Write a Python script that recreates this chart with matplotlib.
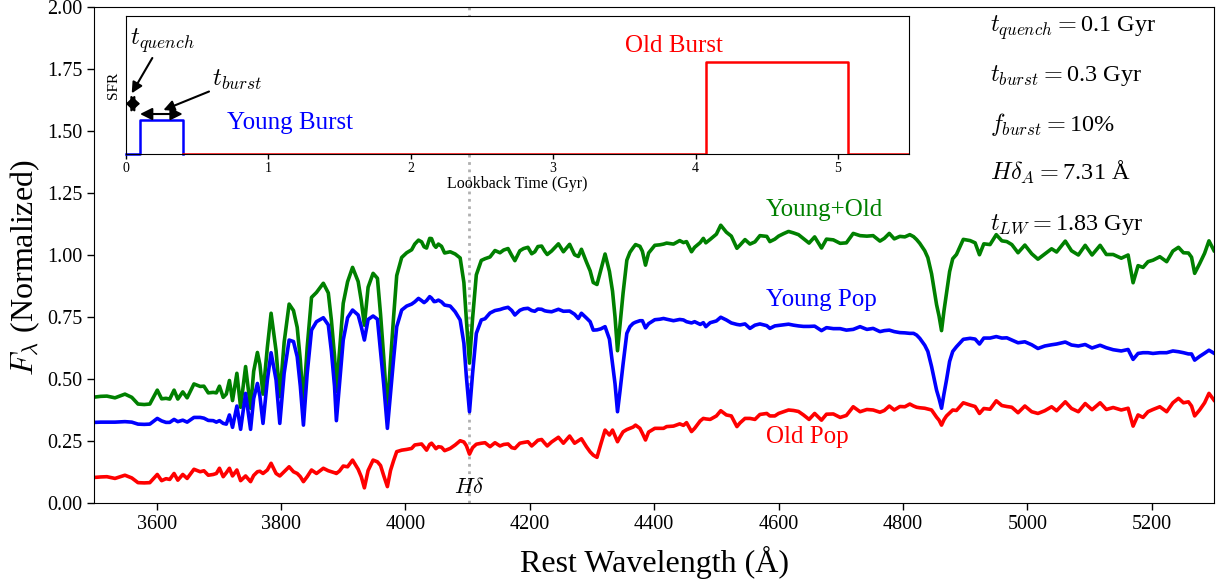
import numpy as np
import matplotlib
matplotlib.use("Agg")
import matplotlib.pyplot as plt

plt.rcParams['font.family'] = ['Liberation Serif', 'DejaVu Serif']
plt.rcParams['mathtext.fontset'] = 'cm'

# Rest-frame wavelength grid (Angstrom) and normalized flux of each component
wave = [3500, 3510, 3520, 3533, 3549, 3560, 3570, 3580, 3589, 3601, 3608, 3615, 3621, 3628, 3634,
        3642, 3649, 3660, 3670, 3676, 3683, 3691, 3696, 3701, 3707, 3712, 3717, 3722, 3729, 3735,
        3743, 3751, 3756, 3762, 3766, 3771, 3778, 3784, 3792, 3798, 3805, 3813, 3820, 3826, 3831,
        3836, 3842, 3849, 3857, 3868, 3876, 3881, 3886, 3889, 3894, 3900, 3907, 3915, 3924, 3929,
        3934, 3940, 3948, 3955, 3960, 3965, 3971, 3976, 3981, 3986, 3994, 4002, 4010, 4015, 4021,
        4026, 4030, 4034, 4039, 4042, 4046, 4049, 4053, 4058, 4063, 4072, 4080, 4088, 4094, 4098,
        4103, 4108, 4114, 4122, 4128, 4136, 4144, 4152, 4158, 4165, 4171, 4176, 4184, 4190, 4197,
        4203, 4208, 4213, 4219, 4224, 4228, 4235, 4246, 4254, 4264, 4272, 4278, 4283, 4291, 4297,
        4302, 4308, 4314, 4321, 4328, 4333, 4337, 4341, 4345, 4350, 4356, 4361, 4366, 4370, 4377,
        4381, 4386, 4391, 4401, 4409, 4415, 4420, 4431, 4441, 4447, 4452, 4460, 4465, 4474, 4479,
        4483, 4490, 4500, 4507, 4516, 4524, 4533, 4538, 4546, 4554, 4562, 4570, 4581, 4586, 4594,
        4600, 4608, 4616, 4624, 4632, 4640, 4649, 4658, 4669, 4677, 4688, 4699, 4709, 4720, 4731,
        4742, 4752, 4763, 4770, 4778, 4786, 4795, 4803, 4811, 4817, 4822, 4827, 4835, 4840, 4846,
        4854, 4858, 4862, 4866, 4870, 4875, 4880, 4886, 4897, 4908, 4916, 4923, 4930, 4940, 4950,
        4959, 4967, 4975, 4985, 4996, 5007, 5017, 5028, 5039, 5047, 5061, 5071, 5082, 5093, 5104,
        5117, 5127, 5138, 5151, 5162, 5170, 5178, 5186, 5194, 5202, 5213, 5224, 5234, 5243, 5251,
        5259, 5264, 5269, 5277, 5285, 5292, 5300]

young_pop = [0.324, 0.325, 0.325, 0.325, 0.327, 0.325, 0.317, 0.316, 0.317, 0.340, 0.330, 0.324, 0.324, 0.336, 0.327,
             0.333, 0.325, 0.344, 0.344, 0.341, 0.332, 0.331, 0.325, 0.331, 0.320, 0.317, 0.354, 0.304, 0.390, 0.296,
             0.441, 0.296, 0.420, 0.481, 0.430, 0.320, 0.495, 0.605, 0.495, 0.320, 0.522, 0.656, 0.650, 0.589, 0.470,
             0.313, 0.520, 0.696, 0.730, 0.746, 0.717, 0.610, 0.470, 0.331, 0.480, 0.656, 0.746, 0.777, 0.757, 0.710,
             0.656, 0.739, 0.753, 0.740, 0.610, 0.480, 0.300, 0.440, 0.580, 0.710, 0.777, 0.793, 0.801, 0.810, 0.824,
             0.815, 0.807, 0.815, 0.831, 0.825, 0.811, 0.812, 0.817, 0.810, 0.797, 0.793, 0.770, 0.737, 0.643, 0.508,
             0.367, 0.522, 0.683, 0.737, 0.742, 0.765, 0.775, 0.779, 0.784, 0.788, 0.775, 0.757, 0.776, 0.782, 0.784,
             0.775, 0.772, 0.781, 0.780, 0.774, 0.772, 0.770, 0.780, 0.772, 0.773, 0.760, 0.743, 0.764, 0.745, 0.730,
             0.696, 0.697, 0.701, 0.710, 0.660, 0.560, 0.480, 0.367, 0.450, 0.560, 0.683, 0.710, 0.723, 0.728, 0.734,
             0.734, 0.705, 0.722, 0.738, 0.740, 0.743, 0.740, 0.734, 0.739, 0.737, 0.730, 0.725, 0.730, 0.719, 0.726,
             0.710, 0.726, 0.733, 0.748, 0.737, 0.725, 0.719, 0.717, 0.721, 0.703, 0.716, 0.721, 0.714, 0.703, 0.713,
             0.715, 0.718, 0.720, 0.716, 0.713, 0.711, 0.711, 0.712, 0.694, 0.706, 0.702, 0.702, 0.696, 0.699, 0.710,
             0.699, 0.703, 0.690, 0.694, 0.696, 0.690, 0.686, 0.685, 0.683, 0.683, 0.676, 0.663, 0.635, 0.610, 0.549,
             0.454, 0.420, 0.381, 0.440, 0.495, 0.570, 0.610, 0.629, 0.659, 0.663, 0.660, 0.640, 0.664, 0.664, 0.670,
             0.664, 0.665, 0.656, 0.645, 0.649, 0.637, 0.622, 0.632, 0.637, 0.640, 0.648, 0.636, 0.632, 0.638, 0.624,
             0.635, 0.625, 0.617, 0.612, 0.618, 0.578, 0.602, 0.605, 0.605, 0.602, 0.605, 0.605, 0.612, 0.609, 0.605,
             0.600, 0.600, 0.575, 0.590, 0.603, 0.615, 0.603]

old_pop = [0.102, 0.104, 0.105, 0.098, 0.111, 0.100, 0.081, 0.080, 0.081, 0.114, 0.089, 0.097, 0.094, 0.118, 0.091,
           0.114, 0.098, 0.135, 0.125, 0.129, 0.111, 0.114, 0.118, 0.139, 0.105, 0.121, 0.139, 0.108, 0.132, 0.089,
           0.108, 0.085, 0.110, 0.125, 0.127, 0.118, 0.132, 0.159, 0.118, 0.108, 0.125, 0.145, 0.125, 0.118, 0.105,
           0.085, 0.105, 0.132, 0.118, 0.139, 0.129, 0.125, 0.121, 0.118, 0.128, 0.148, 0.145, 0.172, 0.135, 0.105,
           0.060, 0.130, 0.172, 0.165, 0.150, 0.110, 0.065, 0.130, 0.170, 0.206, 0.212, 0.215, 0.219, 0.233, 0.235,
           0.237, 0.225, 0.212, 0.235, 0.240, 0.228, 0.218, 0.226, 0.224, 0.210, 0.219, 0.233, 0.250, 0.245, 0.230,
           0.196, 0.222, 0.236, 0.240, 0.242, 0.226, 0.242, 0.229, 0.235, 0.237, 0.222, 0.219, 0.240, 0.243, 0.246,
           0.229, 0.240, 0.252, 0.255, 0.240, 0.229, 0.245, 0.264, 0.240, 0.269, 0.240, 0.250, 0.258, 0.226, 0.205,
           0.192, 0.183, 0.235, 0.293, 0.273, 0.293, 0.270, 0.246, 0.265, 0.286, 0.295, 0.300, 0.305, 0.313, 0.300,
           0.280, 0.253, 0.285, 0.300, 0.300, 0.300, 0.307, 0.309, 0.318, 0.312, 0.323, 0.287, 0.300, 0.330, 0.340,
           0.338, 0.336, 0.350, 0.371, 0.354, 0.350, 0.307, 0.322, 0.340, 0.340, 0.336, 0.356, 0.360, 0.350, 0.350,
           0.360, 0.367, 0.374, 0.372, 0.368, 0.354, 0.336, 0.360, 0.333, 0.357, 0.358, 0.344, 0.352, 0.387, 0.367,
           0.376, 0.374, 0.365, 0.372, 0.390, 0.374, 0.388, 0.387, 0.398, 0.390, 0.385, 0.383, 0.381, 0.378, 0.374,
           0.345, 0.333, 0.313, 0.335, 0.350, 0.362, 0.374, 0.372, 0.403, 0.394, 0.388, 0.360, 0.380, 0.377, 0.411,
           0.392, 0.388, 0.385, 0.363, 0.390, 0.367, 0.360, 0.371, 0.387, 0.371, 0.407, 0.380, 0.367, 0.400, 0.375,
           0.403, 0.376, 0.384, 0.374, 0.381, 0.309, 0.354, 0.344, 0.367, 0.376, 0.387, 0.367, 0.403, 0.421, 0.403,
           0.407, 0.390, 0.350, 0.374, 0.403, 0.441, 0.414]

# Star-formation history of the two bursts (lookback time in Gyr)
young_sfh_t = [0.0, 0.1, 0.1, 0.4, 0.4]
young_sfh_sfr = [0.0, 0.0, 0.333, 0.333, 0.0]
old_sfh_t = [0.4, 4.07, 4.07, 5.07, 5.07, 5.5]
old_sfh_sfr = [0.0, 0.0, 0.9, 0.9, 0.0, 0.0]

param_labels = [r'$t_{quench} =$0.1 Gyr',
                r'$t_{burst} =$0.3 Gyr',
                r'$f_{burst} =$10%',
                r'$H\delta_A =$7.31 Å',
                r'$t_{LW} =$1.83 Gyr']
param_y = [1.9, 1.7, 1.5, 1.3, 1.1]

wave = np.array(wave)
young_pop = np.array(young_pop)
old_pop = np.array(old_pop)
combined = young_pop + old_pop

fig = plt.figure(figsize=(12.22, 5.81), dpi=100)
ax = fig.add_axes([0.0773, 0.1347, 0.9161, 0.8537])

ax.axvline(4102, color='#b0b0b0', ls=':', lw=2, zorder=0)
ax.plot(wave, combined, color='#008000', lw=2.6)
ax.plot(wave, young_pop, color='#0000ff', lw=2.6)
ax.plot(wave, old_pop, color='#ff0000', lw=2.6)

ax.set_xlim(3500, 5300)
ax.set_ylim(0, 2)
ax.set_xticks(np.arange(3600, 5201, 200))
ax.set_yticks(np.arange(0, 2.01, 0.25))
ax.yaxis.set_major_formatter(matplotlib.ticker.FormatStrFormatter('%.2f'))
ax.tick_params(labelsize=14.5, length=5, width=1, direction='out')
ax.set_xlabel('Rest Wavelength (Å)', fontsize=23, labelpad=9)
ax.set_ylabel(r'$F_\lambda$ (Normalized)', fontsize=23)
ax.yaxis.set_label_coords(-0.047, 0.473)

ax.text(4580, 1.155, 'Young+Old', color='#008000', fontsize=18)
ax.text(4580, 0.793, 'Young Pop', color='#0000ff', fontsize=18)
ax.text(4580, 0.24, 'Old Pop', color='#ff0000', fontsize=18)
ax.text(4102, 0.04, r'$H\delta$', fontsize=16, ha='center')

for lbl, yv in zip(param_labels, param_y):
    ax.text(4940, yv, lbl, fontsize=17.5)

# Inset: star-formation history
ins = fig.add_axes([0.1029, 0.7344, 0.6412, 0.2386])
ins.plot(young_sfh_t, young_sfh_sfr, color='#0000ff', lw=1.8, clip_on=False)
ins.plot(old_sfh_t, old_sfh_sfr, color='#ff0000', lw=1.8)
ins.set_xlim(0, 5.5)
ins.set_ylim(0, 1.35)
ins.set_yticks([])
ins.set_xticks(range(0, 6))
ins.tick_params(labelsize=10, length=3.5, width=1, pad=2)
ins.set_xlabel('Lookback Time (Gyr)', fontsize=11.5, labelpad=1)
ins.set_ylabel('SFR', fontsize=11, labelpad=4)

ins.text(0.709, 0.246, 'Young Burst', color='#0000ff', fontsize=18)
ins.text(3.505, 0.993, 'Old Burst', color='#ff0000', fontsize=18)

ins.annotate('', xy=(0.0, 0.493), xytext=(0.1, 0.493),
             arrowprops=dict(arrowstyle='<|-|>,head_length=0.32,head_width=0.3', color='k',
                             lw=1.5, shrinkA=0, shrinkB=0, mutation_scale=16))
ins.annotate('', xy=(0.1, 0.3925), xytext=(0.4, 0.3925),
             arrowprops=dict(arrowstyle='<|-|>,head_length=0.4,head_width=0.2', color='k',
                             lw=1.5, shrinkA=0, shrinkB=0, mutation_scale=18))
ins.annotate(r'$t_{quench}$', xy=(0.042, 0.594), xytext=(0.03, 1.065), fontsize=18,
             arrowprops=dict(arrowstyle='-|>', color='k', lw=1.5, shrinkA=0, shrinkB=0,
                             mutation_scale=16),
             va='baseline')
ins.annotate(r'$t_{burst}$', xy=(0.264, 0.431), xytext=(0.604, 0.665), fontsize=18,
             arrowprops=dict(arrowstyle='-|>', color='k', lw=1.5, shrinkA=0, shrinkB=0,
                             mutation_scale=16),
             va='baseline')

fig.savefig('out.png', dpi=100)
